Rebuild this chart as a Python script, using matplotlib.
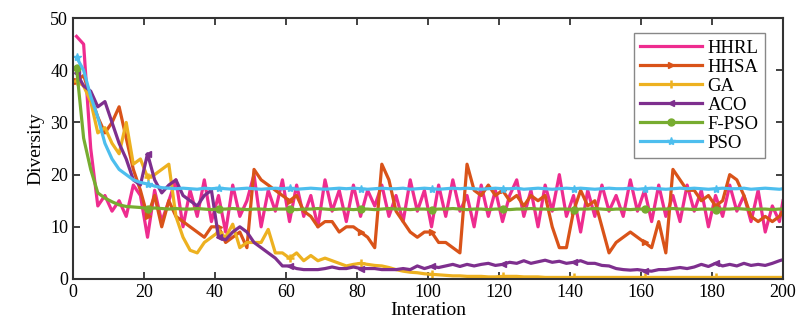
import numpy as np
import matplotlib.pyplot as plt

# iteraciones muestreadas cada 2 (1, 3, ..., 199) mas la ultima (200)
iters = list(range(1, 200, 2)) + [200]

hhrl = [46.5, 45, 25, 14, 16, 13, 15, 12, 18, 16,
        8, 17, 11, 15, 19, 10, 17, 12, 19, 11,
        16, 9, 18, 12, 15, 20, 10, 17, 13, 19,
        11, 18, 12, 16, 10, 19, 13, 17, 11, 18,
        12, 17, 14, 18, 12, 16, 11, 19, 13, 17,
        10, 18, 12, 19, 13, 16, 10, 18, 12, 17,
        11, 16, 19, 12, 17, 10, 18, 13, 20, 12,
        16, 9, 17, 12, 18, 13, 16, 12, 19, 13,
        17, 11, 18, 12, 16, 11, 18, 13, 17, 10,
        16, 12, 18, 13, 16, 11, 17, 9, 14, 11,
        15]

hhsa = [38, 39, 35, 31, 28, 30, 33, 27, 21, 17,
        12, 16, 10, 15, 12, 11, 10, 9, 8, 10,
        10, 7, 8, 9, 6, 21, 19, 18, 17, 16,
        15, 16, 13, 12, 10, 11, 11, 9, 10, 10,
        9, 8, 6, 22, 19, 13, 11, 9, 8, 9,
        9, 7, 7, 6, 5, 22, 17, 16, 18, 16,
        17, 15, 16, 14, 16, 15, 16, 10, 6, 6,
        13, 17, 14, 15, 10, 5, 7, 8, 9, 8,
        7, 6, 11, 5, 21, 19, 17, 17, 15, 16,
        14, 15, 20, 19, 16, 12, 11, 12, 11, 12,
        13]

ga = [38, 37, 34, 28, 29, 26, 24, 30, 22, 23,
      19.5, 20, 21, 22, 12, 8, 5.5, 5, 7, 8,
      9, 8, 10.5, 6, 7, 7, 7, 9.5, 5, 5,
      4, 5, 3.5, 4.5, 3.5, 4, 3.5, 3, 2.5, 2.8,
      3, 2.8, 2.6, 2.5, 2.2, 1.8, 1.5, 1.3, 1.2, 1,
      0.9, 0.8, 0.7, 0.6, 0.6, 0.5, 0.5, 0.5, 0.4, 0.4,
      0.5, 0.5, 0.5, 0.4, 0.4, 0.4, 0.3, 0.3, 0.3, 0.3,
      0.3, 0.3, 0.3, 0.3, 0.3, 0.3, 0.3, 0.3, 0.3, 0.3,
      0.3, 0.3, 0.3, 0.3, 0.3, 0.3, 0.3, 0.3, 0.3, 0.3,
      0.3, 0.3, 0.3, 0.3, 0.3, 0.3, 0.3, 0.3, 0.3, 0.3,
      0.3]

aco = [39.5, 37, 36, 33, 34, 30, 26, 23, 19, 18,
       24, 19, 16.5, 18, 19, 16, 15, 14, 16, 17,
       8, 7.5, 9, 10, 9, 7, 6, 5, 4, 2.5,
       2.5, 2, 1.8, 1.8, 1.8, 2, 2.3, 2, 2, 2.3,
       2, 2, 2, 1.8, 1.8, 1.8, 2, 1.8, 2.5, 2,
       2.4, 2.2, 2.5, 2.8, 2.4, 2.8, 2.5, 2.8, 3, 2.6,
       2.8, 3.2, 3, 3.5, 3, 3.3, 3.6, 3.2, 3.4, 3,
       3.2, 3.5, 3, 3, 2.6, 2.5, 2, 1.8, 1.7, 1.8,
       1.6, 1.5, 1.8, 1.8, 2, 2.2, 2, 2.3, 2.8, 2.4,
       3, 2.5, 2.8, 2.5, 3, 2.6, 2.8, 2.6, 3, 3.5,
       3.7]

fpso = [40.5, 27, 21, 16.5, 15.5, 14.8, 14.2, 13.9, 13.8, 13.7,
        13.5, 13.6, 13.5, 13.4, 13.5, 13.4, 13.4, 13.5, 13.4, 13.3,
        13.4, 13.4, 13.5, 13.4, 13.3, 13.4, 13.4, 13.3, 13.4, 13.4,
        13.4, 13.3, 13.4, 13.4, 13.5, 13.4, 13.3, 13.4, 13.4, 13.3,
        13.4, 13.4, 13.3, 13.4, 13.5, 13.4, 13.4, 13.3, 13.4, 13.4,
        13.3, 13.4, 13.4, 13.5, 13.4, 13.3, 13.4, 13.4, 13.3, 13.4,
        13.4, 13.3, 13.4, 13.4, 13.5, 13.4, 13.4, 13.3, 13.4, 13.4,
        13.3, 13.4, 13.4, 13.5, 13.4, 13.3, 13.4, 13.4, 13.3, 13.4,
        13.4, 13.3, 13.4, 13.4, 13.5, 13.4, 13.4, 13.3, 13.4, 13.4,
        13.3, 13.4, 13.4, 13.5, 13.4, 13.3, 13.4, 13.4, 13.3, 13.4,
        13.4]

pso = [42.5, 40, 35, 31, 26, 23, 21, 20, 19, 18.5,
       18.2, 17.8, 17.5, 17.4, 17.3, 17.4, 17.3, 17.2, 17.4, 17.3,
       17.4, 17.3, 17.2, 17.3, 17.4, 17.3, 17.2, 17.3, 17.4, 17.3,
       17.4, 17.2, 17.3, 17.4, 17.3, 17.2, 17.3, 17.4, 17.3, 17.4,
       17.3, 17.2, 17.3, 17.4, 17.3, 17.3, 17.4, 17.2, 17.3, 17.4,
       17.3, 17.2, 17.3, 17.4, 17.3, 17.4, 17.3, 17.2, 17.3, 17.4,
       17.3, 17.3, 17.4, 17.2, 17.3, 17.4, 17.3, 17.2, 17.3, 17.4,
       17.3, 17.4, 17.3, 17.2, 17.3, 17.4, 17.3, 17.3, 17.4, 17.2,
       17.3, 17.4, 17.3, 17.2, 17.3, 17.4, 17.3, 17.4, 17.3, 17.2,
       17.3, 17.4, 17.3, 17.3, 17.4, 17.2, 17.3, 17.4, 17.3, 17.2,
       17.3]

series = [
    ("HHRL", hhrl, "#EE2C8F", None),
    ("HHSA", hhsa, "#D95319", ">"),
    ("GA", ga, "#EDB120", "+"),
    ("ACO", aco, "#7E2F8E", "<"),
    ("F-PSO", fpso, "#77AC30", "o"),
    ("PSO", pso, "#4DBEEE", "*"),
]

plt.rcParams["font.family"] = ["Liberation Serif", "DejaVu Serif"]

fig = plt.figure(figsize=(8.01, 3.29), dpi=100)
ax = fig.add_axes([0.0911, 0.152, 0.8864, 0.793])

for name, vals, color, mk in series:
    ax.plot(iters, vals, color=color, lw=2.3, label=name,
            marker=mk, markersize=6 if mk in ("+", "*") else 5,
            markeredgewidth=1.8 if mk == "+" else 1,
            markevery=slice(0, 100, 10))

ax.set_xlim(0, 200)
ax.set_ylim(0, 50)
ax.set_xticks(np.arange(0, 201, 20))
ax.set_yticks(np.arange(0, 51, 10))
ax.tick_params(direction="in", length=5, width=1.3, top=True, right=True,
               labelsize=13, color="#333333")
for sp in ax.spines.values():
    sp.set_linewidth(1.5)
    sp.set_color("#333333")

ax.set_xlabel("Interation", fontsize=14, labelpad=1)
ax.set_ylabel("Diversity", fontsize=14, labelpad=4)

leg = ax.legend(loc="upper right", bbox_to_anchor=(0.975, 0.943), fontsize=13.5,
                handlelength=3.3, handletextpad=0.3, labelspacing=0.1,
                borderpad=0.35, borderaxespad=0, fancybox=False, framealpha=1)
leg.get_frame().set_edgecolor("#888888")
leg.get_frame().set_linewidth(1.0)

fig.savefig("out.png", dpi=100)
